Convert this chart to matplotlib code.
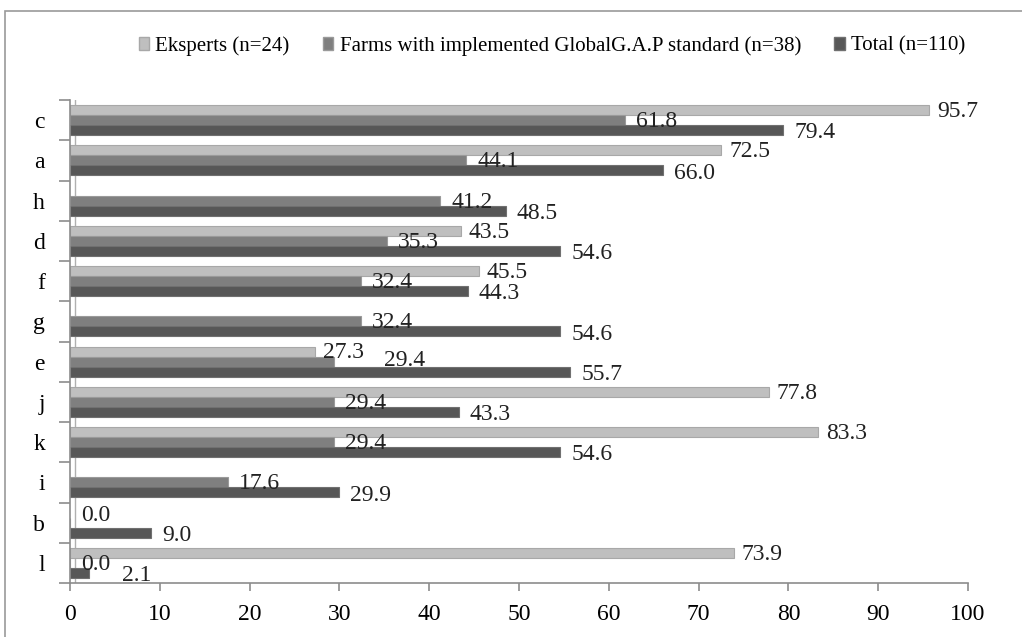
import matplotlib
matplotlib.use("Agg")
import matplotlib.pyplot as plt
import numpy as np
from matplotlib.patches import Patch, Rectangle

# Données (None = pas de barre)
categories = ['c', 'a', 'h', 'd', 'f', 'g', 'e', 'j', 'k', 'i', 'b', 'l']
eksperts = [95.7, 72.5, None, 43.5, 45.5, None, 27.3, 77.8, 83.3, None, None, 73.9]
farms = [61.8, 44.1, 41.2, 35.3, 32.4, 32.4, 29.4, 29.4, 29.4, 17.6, 0.0, 0.0]
total = [79.4, 66.0, 48.5, 54.6, 44.3, 54.6, 55.7, 43.3, 54.6, 29.9, 9.0, 2.1]

series_names = ['Eksperts (n=24)',
                'Farms with implemented GlobalG.A.P standard (n=38)',
                'Total (n=110)']
colors = ['#bfbfbf', '#7f7f7f', '#575757']
edges = ['#a8a8a8', '#9a9a9a', '#707070']

# décalages manuels de quelques étiquettes (série, catégorie) -> (dx, dy) en points
nudges = {(1, 'e'): (28, 2), (2, 'l'): (16, 0), (1, 'b'): (0, 6)}

plt.rcParams['font.family'] = ['Liberation Serif', 'DejaVu Serif']

W, H = 1022, 637
fig = plt.figure(figsize=(W / 100, H / 100), dpi=100)
ax = fig.add_axes([70 / W, 1 - 583 / H, (968 - 70) / W, (583 - 100) / H])

# cadre extérieur
fig.patches.append(Rectangle((5 / W, -0.1), 1.2, 1 - 11 / H + 0.1,
                             transform=fig.transFigure, fill=False,
                             edgecolor='#9a9a9a', linewidth=1.2))

y = np.arange(len(categories))
h = 0.25
offsets = [-h, 0, h]
label_offsets = [(6, -1), (8, -1), (8, -2)]

for si, (vals, off, col, ec, lo) in enumerate(zip([eksperts, farms, total], offsets, colors, edges, label_offsets)):
    for yi, cat, v in zip(y, categories, vals):
        if v is None:
            continue
        ax.barh(yi + off, v, height=h, color=col, edgecolor=ec, linewidth=0.8, zorder=2)
        dx, dy = nudges.get((si, cat), (0, 0))
        ax.annotate(f'{v:.1f}', xy=(v, yi + off), xytext=(lo[0] + dx, lo[1] + dy),
                    textcoords='offset points', ha='left', va='center',
                    fontsize=17, color='#222222', zorder=5)

ax.set_ylim(len(categories) - 0.5, -0.5)
ax.set_xlim(0, 100)
ax.set_xticks(np.arange(0, 101, 10))
ax.set_yticks(y)
ax.set_yticklabels(categories)
ax.set_yticks(np.arange(-0.5, len(categories), 1), minor=True)
ax.tick_params(axis='y', which='major', length=0, pad=18, labelsize=17)
ax.tick_params(axis='y', which='minor', length=8, color='#8c8c8c', width=1.2)
ax.tick_params(axis='x', length=6, color='#8c8c8c', width=1.2, labelsize=17, pad=9)

for s in ['top', 'right']:
    ax.spines[s].set_visible(False)
for s in ['left', 'bottom']:
    ax.spines[s].set_color('#8c8c8c')
    ax.spines[s].set_linewidth(1.2)

# paroi arrière (effet 3D)
ax.plot([0.55, 0.55], [len(categories) - 0.5, -0.5], color='#b0b0b0', linewidth=1.0, zorder=1)

handles = [Patch(facecolor=c, edgecolor=e) for c, e in zip(colors, edges)]
fig.legend(handles, series_names, loc='center', bbox_to_anchor=(0.54, 1 - 46 / H),
           ncol=3, frameon=False, fontsize=15, handlelength=0.5, handleheight=0.55,
           handletextpad=0.3, columnspacing=1.6)

fig.savefig('out.png', dpi=100)
